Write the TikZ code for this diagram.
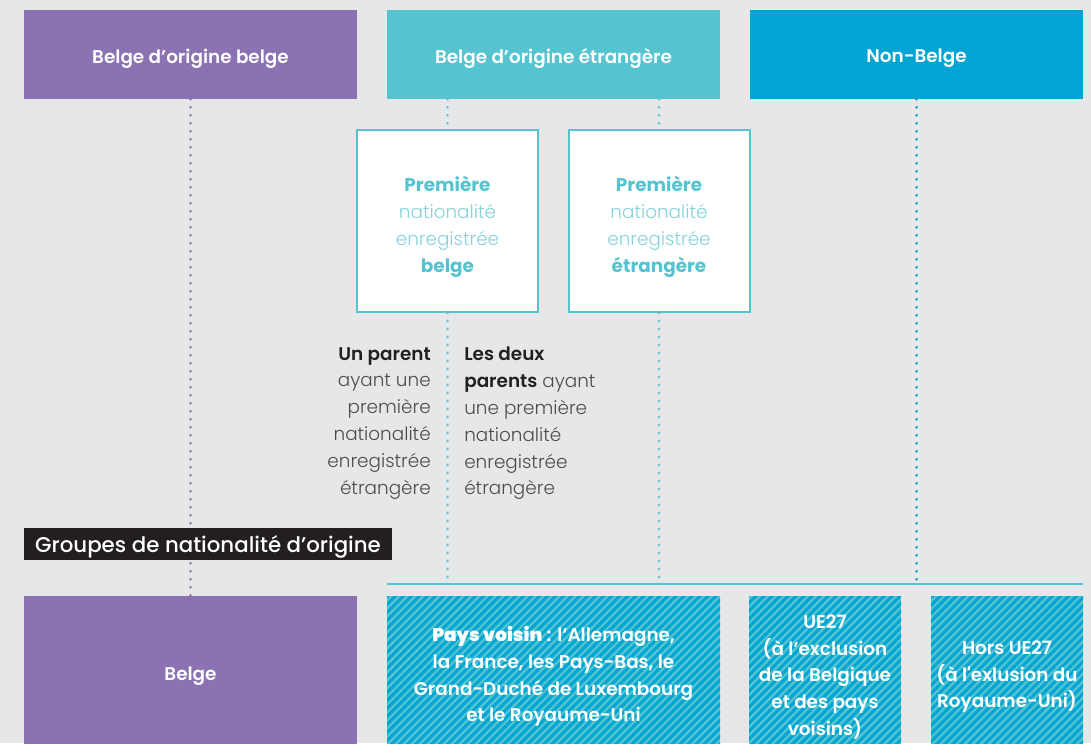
\documentclass[tikz,border=0pt]{standalone}
\usepackage{fontspec}
\setmainfont{Poppins}
\newfontfamily\lightf{Poppins Light}
\newfontfamily\semib{Poppins SemiBold}
\newfontfamily\medf{Poppins Medium}
\usetikzlibrary{patterns.meta}
\definecolor{cbg}{HTML}{E6E7E9}
\definecolor{cpurple}{HTML}{8A72B3}
\definecolor{cteal}{HTML}{55C4D0}
\definecolor{cblue}{HTML}{00A5D4}
\definecolor{clteal}{HTML}{86D3DC}
\definecolor{cgray}{HTML}{4D4D4D}
\definecolor{cdark}{HTML}{231F20}
\newcommand{\pxu}{0.75pt}
\begin{document}
\begin{tikzpicture}[x=0.75pt,y=-0.75pt,
  colbox/.style={inner sep=0pt},
  coltext/.style={inner sep=0pt, text=white, align=center,
    font=\semib\fontsize{13.8}{20}\selectfont},
  hatchbox/.style={colbox, preaction={fill=cteal},
    pattern={Lines[angle=45,distance=4.25pt,line width=2.3pt]}, pattern color=cblue},
  whitebox/.style={fill=white, draw=cteal, line width=1.5pt, inner sep=0pt,
    minimum width=181*\pxu, minimum height=182*\pxu},
  whitetext/.style={inner sep=0pt, align=center,
    font=\fontsize{13.8}{20.2}\selectfont},
  sidetext/.style={inner sep=0pt, text=cgray,
    font=\lightf\fontsize{13.8}{20.1}\selectfont},
  dotline/.style={line width=2.2pt, line cap=round, dash pattern=on 0pt off 6pt},
]
\clip (0,0) rectangle (1091,743);
\fill[cbg] (0,0) rectangle (1091,743);

% top headers
\node[colbox, fill=cpurple, minimum width=333*\pxu, minimum height=89*\pxu] (t1) at (190.5,54.5) {};
\node[colbox, fill=cteal, minimum width=333*\pxu, minimum height=89*\pxu] (t2) at (553.5,54.5) {};
\node[colbox, fill=cblue, minimum width=333*\pxu, minimum height=89*\pxu] (t3) at (916.5,54.5) {};
\node[coltext] (t1x) at ([yshift=-3pt]t1.center) {Belge d’origine belge};
\node[coltext] (t2x) at ([yshift=-3pt]t2.center) {Belge d’origine étrangère};
\node[coltext] (t3x) at ([yshift=-3pt]t3.center) {Non-Belge};

% white boxes
\node[whitebox] (pA) at (447.5,221) {};
\node[whitebox] (pB) at (659,221) {};
\node[whitetext] (pAx) at ([yshift=-4.5pt]pA.center) {\textcolor{cteal}{\bfseries Première}\\ \textcolor{clteal}{\lightf nationalité}\\ \textcolor{clteal}{\lightf enregistrée}\\ \textcolor{cteal}{\bfseries belge}};
\node[whitetext] (pBx) at ([yshift=-4.5pt]pB.center) {\textcolor{cteal}{\bfseries Première}\\ \textcolor{clteal}{\lightf nationalité}\\ \textcolor{clteal}{\lightf enregistrée}\\ \textcolor{cteal}{\bfseries étrangère}};

% horizontal line
\coordinate (hl) at (387,584);
\coordinate (hr) at (1083,584);

% bottom boxes
\node[colbox, fill=cpurple, minimum width=333*\pxu, minimum height=156*\pxu] (b1) at (190.5,674) {};
\node[hatchbox, minimum width=333*\pxu, minimum height=156*\pxu] (b2) at (553.5,674) {};
\node[hatchbox, minimum width=152*\pxu, minimum height=156*\pxu] (b3) at (825,674) {};
\node[hatchbox, minimum width=152*\pxu, minimum height=156*\pxu] (b4) at (1007,674) {};
\node[coltext] (b1x) at ([yshift=-2pt]b1.center) {Belge};
\node[coltext] (b2x) at ([yshift=-2pt]b2.center) {{\bfseries Pays voisin} : l’Allemagne,\\ la France, les Pays-Bas, le\\ Grand-Duché de Luxembourg\\ et le Royaume-Uni};
\node[coltext] (b3x) at ([yshift=-2pt]b3.center) {UE27\\ (à l’exclusion\\ de la Belgique\\ et des pays\\ voisins)};
\node[coltext] (b4x) at ([yshift=-2pt]b4.center) {Hors UE27\\ (à l'exlusion du\\ Royaume-Uni)};

% dotted connectors
\draw[dotline, cpurple] (t1.south) -- (b1.north);
\draw[dotline, cteal] (pA.north |- t2.south) -- (pA.north);
\draw[dotline, cteal] (pB.north |- t2.south) -- (pB.north);
\draw[dotline, cteal] (pA.south) -- (pA.south |- hl);
\draw[dotline, cteal] (pB.south) -- (pB.south |- hl);
\draw[dotline, cblue] (t3.south) -- (t3.south |- hl);
\draw[cteal, line width=1.5pt] (hl) -- (hr);

% side texts
\node[sidetext, anchor=north east, align=right] (lt) at (431,347) {\textcolor{cdark}{\bfseries Un parent}\\ ayant une\\ première\\ nationalité\\ enregistrée\\ étrangère};
\node[sidetext, anchor=north west, align=left] (rt) at (464,347) {\textcolor{cdark}{\bfseries Les deux}\\ \textcolor{cdark}{\bfseries parents} ayant\\ une première\\ nationalité\\ enregistrée\\ étrangère};

% label
\node[fill=cdark, inner sep=0pt, minimum width=368*\pxu, minimum height=32*\pxu] (grp) at (208,544) {};
\node[text=white, inner sep=0pt, font=\medf\fontsize{16}{18}\selectfont] (grpx) at ([yshift=-2.5pt]grp.center) {Groupes de nationalité d’origine};
\end{tikzpicture}
\end{document}
